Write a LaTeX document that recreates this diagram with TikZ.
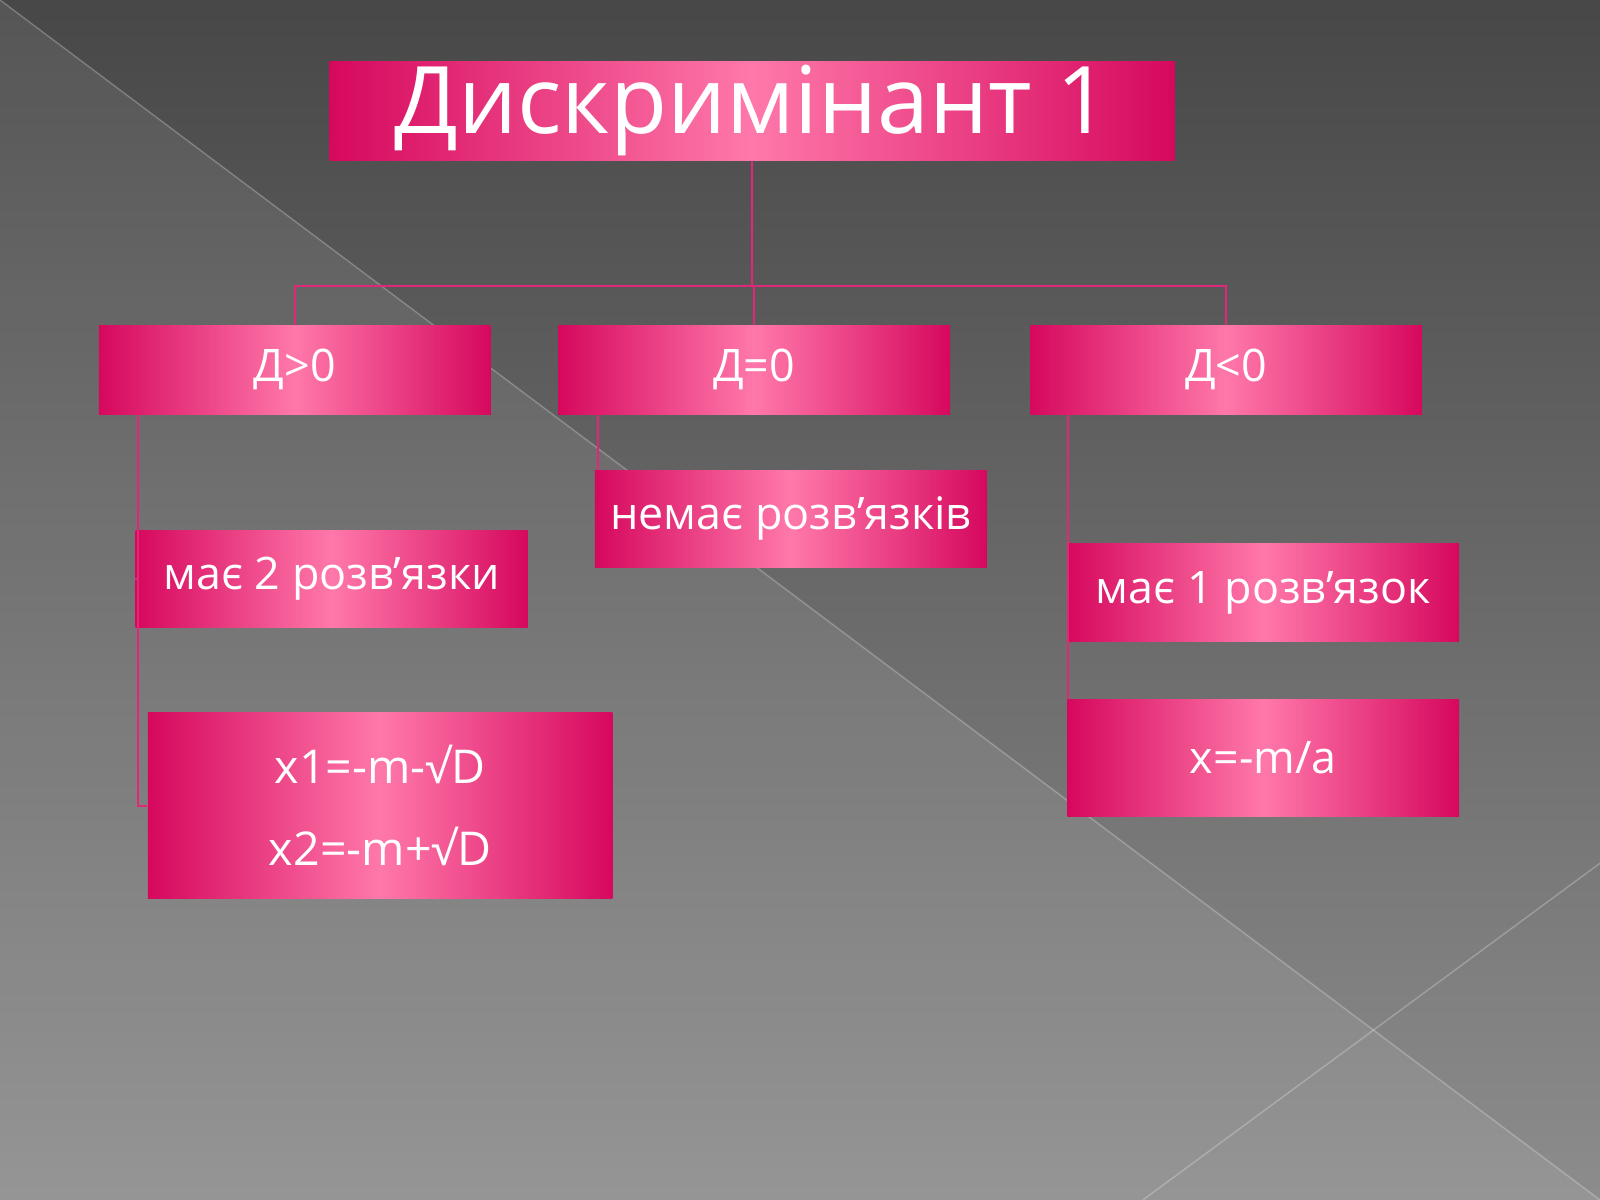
\documentclass[tikz,border=0pt]{standalone}
\usepackage{fontspec}
\setmainfont{Open Sans}
\usetikzlibrary{positioning,calc}
\definecolor{boxdark}{RGB}{214, 8, 94}
\definecolor{boxlight}{RGB}{255, 120, 170}
\definecolor{linkcolor}{RGB}{225, 40, 120}
\begin{document}
\begin{tikzpicture}[
    box/.style={rectangle, left color=boxdark, right color=boxdark, middle color=boxlight,
        text=white, align=center, inner sep=0pt, font=\fontsize{12.5}{20}\selectfont},
    link/.style={linkcolor, line width=0.6pt}
]
    % background
    \useasboundingbox (0,0) rectangle (15.68,11.76);
    \shade[top color=black!72, bottom color=black!45] (0,0) rectangle (15.68,11.76);
    \fill[white, opacity=0.08] (0,11.76) -- (15.68,0) -- (0,0) -- cycle;
    \draw[white, opacity=0.25] (0,11.76) -- (15.68,0);
    \draw[white, opacity=0.25] (11.2,0) -- (15.68,3.3);

    % title
    \node[box, minimum width=8.28cm, minimum height=0.97cm, font=\fontsize{26}{32}\selectfont] (title) at (7.37,10.675) {Дискримінант 1};

    % cases
    \node[box, minimum width=3.84cm, minimum height=0.87cm] (pos) at (2.89,8.135) {Д>0};
    \node[box, minimum width=3.84cm, minimum height=0.87cm] (zero) at (7.39,8.135) {Д=0};
    \node[box, minimum width=3.84cm, minimum height=0.87cm] (neg) at (12.015,8.135) {Д<0};

    % results
    \node[box, minimum width=3.84cm, minimum height=0.95cm] (two) at (3.25,6.085) {має 2 розв’язки};
    \node[box, minimum width=3.84cm, minimum height=0.95cm] (none) at (7.75,6.675) {немає розв’язків};
    \node[box, minimum width=3.84cm, minimum height=0.96cm] (one) at (12.38,5.95) {має 1 розв’язок};

    % formulas
    \node[box, minimum width=4.55cm, minimum height=1.83cm, font=\fontsize{13}{23}\selectfont] (roots) at (3.725,3.865) {x1=-m-√D\\x2=-m+√D};
    \node[box, minimum width=3.84cm, minimum height=1.14cm] (root) at (12.38,4.33) {x=-m/a};

    % connectors
    \coordinate (hub) at (7.37,8.96);
    \draw[link] (title.south) -- (hub);
    \draw[link] (pos.north) |- (hub) -| (neg.north);
    \draw[link] (zero.north) -- ++(0,0.385);
    \draw[link] ([xshift=0.39cm]pos.south west) |- (two.west);
    \draw[link] ([xshift=0.39cm]pos.south west) |- (roots.west);
    \draw[link] ([xshift=0.4cm]zero.south west) -- ([xshift=0.4cm]zero.south west |- none.north);
    \draw[link] ([xshift=0.38cm]neg.south west) -- ([xshift=0.38cm]neg.south west |- root.north);
\end{tikzpicture}
\end{document}
